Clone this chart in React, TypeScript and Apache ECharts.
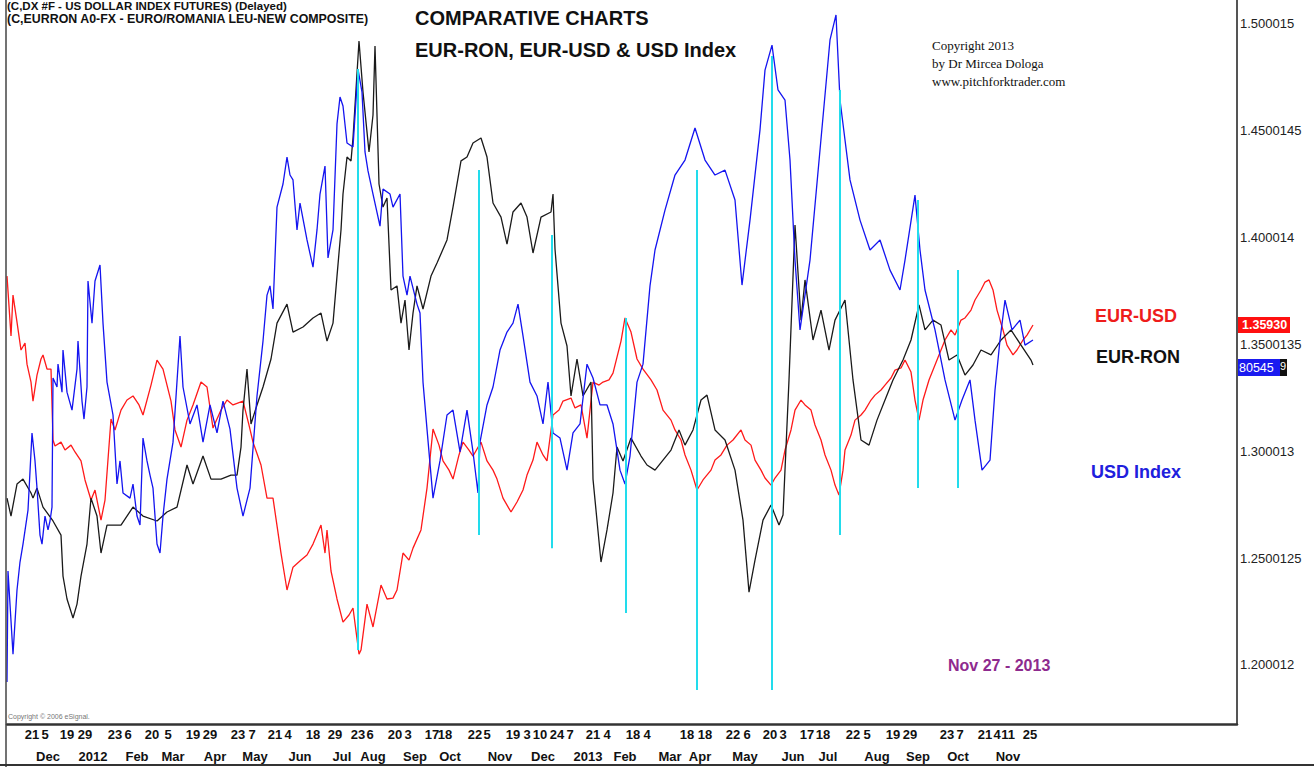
import React, { useEffect, useRef } from "react";
import * as echarts from "echarts";

// x unit: trading-session index since the first bar of the chart
const dayPos = [12.5, 19, 30, 39, 54, 60.5, 72.5, 80.5, 93, 101.5, 115.5, 122.5, 134, 140.5, 153, 164, 175.5, 181.5, 194, 200.5, 212.5, 219, 234, 240, 253, 260, 266.5, 275, 281.5, 293, 300, 313, 320, 340, 349, 363, 370, 381.5, 388, 400, 408, 423, 430, 443, 451.5, 470, 476.5, 489, 495, 500.5, 511.5];
const dayText = ["21", "5", "19", "29", "23", "6", "20", "5", "19", "29", "23", "7", "21", "4", "18", "29", "23", "6", "20", "3", "17", "18", "22", "5", "19", "3", "10", "24", "7", "21", "4", "18", "4", "18", "18", "22", "6", "20", "3", "17", "18", "22", "5", "19", "29", "23", "7", "21", "4", "11", "25"];
const monthPos = [20.5, 43, 65, 83, 104, 124, 146.5, 167.5, 183, 204, 221.5, 246.5, 268, 290.5, 309, 331.5, 346.5, 369, 393, 410.5, 435, 455.5, 475.5, 500.5];
const monthText = ["Dec", "2012", "Feb", "Mar", "Apr", "May", "Jun", "Jul", "Aug", "Sep", "Oct", "Nov", "Dec", "2013", "Feb", "Mar", "Apr", "May", "Jun", "Jul", "Aug", "Sep", "Oct", "Nov"];

const yTickVals = [1.200012, 1.2500125, 1.300013, 1.3500135, 1.400014, 1.4500145, 1.500015];
const yTickText = ["1.200012", "1.2500125", "1.300013", "1.3500135", "1.400014", "1.4500145", "1.500015"];

const eurUsd = [[0,1.3820],[2,1.3540],[3,1.3731],[5,1.3605],[7,1.3474],[9,1.3507],[10,1.3408],[12,1.3324],[13,1.3235],[15,1.3357],[17,1.3432],[18,1.3451],[20,1.3385],[22,1.3385],[23,1.3053],[24,1.3025],[27,1.3043],[29,1.3006],[32,1.3029],[34,1.2997],[37,1.2955],[39,1.2866],[42,1.2772],[44,1.2819],[47,1.2678],[49,1.2772],[52,1.3151],[54,1.3100],[57,1.3193],[60,1.3240],[63,1.3259],[66,1.3217],[68,1.3170],[72,1.3310],[75,1.3427],[78,1.3385],[82,1.3235],[84,1.3100],[87,1.3020],[90,1.3146],[93,1.3217],[97,1.3324],[100,1.3301],[103,1.3109],[107,1.3193],[110,1.3240],[113,1.3217],[118,1.3235],[121,1.3123],[123,1.3043],[127,1.2936],[130,1.2781],[133,1.2781],[137,1.2524],[140,1.2351],[143,1.2458],[147,1.2491],[150,1.2515],[153,1.2566],[157,1.2655],[159,1.2524],[160,1.2632],[162,1.2440],[165,1.2309],[168,1.2201],[171,1.2234],[173,1.2267],[176,1.2051],[177,1.2070],[180,1.2285],[183,1.2178],[187,1.2374],[190,1.2309],[193,1.2313],[195,1.2351],[198,1.2524],[201,1.2491],[203,1.2547],[207,1.2632],[210,1.2828],[213,1.3104],[216,1.3029],[218,1.2955],[221,1.2912],[223,1.2870],[226,1.2983],[228,1.3043],[231,1.3006],[233,1.2978],[237,1.3043],[240,1.2955],[243,1.2912],[245,1.2870],[248,1.2781],[252,1.2716],[255,1.2763],[258,1.2819],[260,1.2889],[263,1.2959],[265,1.3043],[268,1.2983],[270,1.2955],[273,1.3170],[276,1.3193],[278,1.3235],[282,1.3249],[284,1.3203],[287,1.3217],[290,1.3062],[293,1.3324],[296,1.3310],[298,1.3324],[301,1.3334],[303,1.3366],[307,1.3516],[309,1.3624],[312,1.3558],[315,1.3432],[318,1.3385],[322,1.3334],[325,1.3287],[328,1.3193],[332,1.3146],[334,1.3100],[337,1.3053],[339,1.2983],[342,1.2912],[345,1.2819],[348,1.2866],[352,1.2912],[354,1.2959],[357,1.2983],[360,1.3029],[363,1.3053],[367,1.3100],[369,1.3053],[372,1.3029],[374,1.2959],[377,1.2912],[379,1.2875],[382,1.2842],[384,1.2875],[387,1.2912],[389,1.3006],[392,1.3100],[394,1.3193],[397,1.3240],[399,1.3217],[402,1.3193],[404,1.3123],[407,1.3053],[409,1.2983],[412,1.2912],[414,1.2842],[416,1.2795],[418,1.2912],[419,1.3006],[422,1.3076],[424,1.3146],[427,1.3170],[429,1.3193],[432,1.3240],[434,1.3263],[437,1.3287],[439,1.3310],[442,1.3343],[444,1.3380],[447,1.3390],[449,1.3427],[452,1.3371],[454,1.3240],[456,1.3146],[458,1.3240],[461,1.3334],[464,1.3404],[467,1.3474],[469,1.3521],[472,1.3568],[474,1.3544],[477,1.3614],[479,1.3624],[482,1.3661],[484,1.3708],[487,1.3755],[489,1.3792],[491,1.3802],[493,1.3755],[495,1.3661],[498,1.3568],[500,1.3497],[503,1.3451],[505,1.3474],[508,1.3521],[510,1.3544],[513,1.3591]];

const eurRon = [[0,1.2781],[2,1.2697],[5,1.2847],[8,1.2870],[12,1.2805],[13,1.2781],[15,1.2828],[18,1.2739],[23,1.2674],[27,1.2608],[28,1.2416],[30,1.2309],[33,1.2220],[35,1.2285],[37,1.2416],[40,1.2566],[42,1.2781],[45,1.2697],[47,1.2524],[50,1.2655],[57,1.2655],[63,1.2739],[68,1.2697],[75,1.2674],[80,1.2716],[85,1.2739],[90,1.2936],[93,1.2847],[98,1.2978],[102,1.2870],[107,1.2870],[112,1.2889],[115,1.2889],[117,1.3020],[118,1.3193],[120,1.3385],[122,1.3128],[125,1.3217],[128,1.3301],[132,1.3432],[135,1.3600],[140,1.3689],[143,1.3558],[148,1.3582],[153,1.3624],[157,1.3647],[160,1.3516],[163,1.3600],[165,1.3820],[167,1.4036],[168,1.4204],[170,1.4377],[172,1.4359],[173,1.4466],[176,1.4920],[178,1.4681],[181,1.4401],[183,1.4574],[184,1.4897],[186,1.4251],[188,1.4143],[190,1.4185],[192,1.3755],[195,1.3774],[197,1.3600],[199,1.3708],[201,1.3474],[203,1.3647],[205,1.3774],[208,1.3666],[212,1.3820],[215,1.3881],[220,1.3989],[223,1.4143],[227,1.4359],[230,1.4377],[233,1.4443],[237,1.4466],[240,1.4377],[243,1.4162],[247,1.4096],[250,1.3970],[253,1.4120],[257,1.4162],[260,1.4096],[263,1.3928],[267,1.4096],[272,1.4120],[273,1.4204],[274,1.3947],[277,1.3600],[280,1.3493],[282,1.3259],[285,1.3432],[288,1.3259],[292,1.3324],[293,1.2870],[297,1.2482],[300,1.2632],[303,1.2805],[305,1.3020],[308,1.2955],[312,1.3062],[317,1.2978],[320,1.2936],[324,1.2912],[328,1.2959],[332,1.3006],[336,1.3100],[339,1.3029],[343,1.3100],[347,1.3240],[350,1.3263],[354,1.3100],[359,1.3053],[364,1.2912],[368,1.2678],[371,1.2341],[374,1.2491],[378,1.2678],[382,1.2749],[386,1.2655],[388,1.2702],[391,1.3334],[394,1.4059],[397,1.3614],[399,1.3802],[403,1.3521],[407,1.3661],[411,1.3474],[414,1.3614],[419,1.3708],[423,1.3334],[427,1.3053],[431,1.3029],[435,1.3146],[439,1.3240],[443,1.3334],[448,1.3427],[452,1.3521],[456,1.3685],[459,1.3568],[463,1.3614],[467,1.3591],[471,1.3427],[475,1.3451],[479,1.3357],[483,1.3404],[487,1.3474],[492,1.3451],[497,1.3521],[502,1.3568],[507,1.3497],[512,1.3427],[513,1.3404]];

const usdIndex = [[0,1.1920],[0.5,1.2440],[3,1.2051],[5,1.2351],[6.5,1.2482],[8,1.2566],[10.5,1.2725],[12.5,1.3086],[14,1.2955],[15,1.2828],[16.5,1.2608],[17.5,1.2566],[19,1.2697],[20.5,1.2632],[21.5,1.2674],[22.5,1.2739],[23,1.3343],[25,1.3301],[25.5,1.3408],[27.5,1.3277],[28,1.3474],[30,1.3277],[32.5,1.3193],[35,1.3385],[35.5,1.3516],[37.5,1.3235],[38.5,1.3151],[40,1.3301],[40.5,1.3797],[42.5,1.3600],[44,1.3797],[46.5,1.3872],[48,1.3600],[50,1.3324],[53,1.3170],[55,1.2847],[56.5,1.2955],[58,1.2805],[61.5,1.2781],[63,1.2847],[65,1.2697],[66.5,1.2655],[68,1.3062],[70,1.2955],[71.5,1.2889],[73,1.2828],[75,1.2566],[76.5,1.2524],[78,1.2697],[80,1.2870],[83,1.3043],[86.5,1.3540],[88,1.3301],[91.5,1.3128],[95,1.3217],[98,1.3043],[101.5,1.3217],[105,1.3086],[108,1.3235],[111.5,1.3104],[115,1.2828],[118,1.2697],[121.5,1.2828],[125,1.3259],[128,1.3516],[130,1.3731],[131.5,1.3774],[133,1.3666],[135,1.4143],[138,1.4251],[140,1.4377],[141.5,1.4293],[143,1.4270],[145,1.4036],[146.5,1.4162],[150,1.3989],[153,1.3862],[155,1.4036],[156.5,1.4204],[159,1.4335],[160.5,1.3905],[163,1.4036],[165,1.4532],[166.5,1.4658],[168,1.4616],[170,1.4443],[173,1.4424],[175.5,1.4789],[177.5,1.4681],[179,1.4401],[180.5,1.4312],[183,1.4204],[186.5,1.4054],[188,1.4227],[191.5,1.4204],[193,1.4143],[196.5,1.4204],[198,1.3820],[200,1.3731],[201.5,1.3820],[205,1.3689],[206.5,1.3647],[208,1.3324],[210,1.3104],[213,1.2781],[216.5,1.2955],[220,1.3170],[223,1.3193],[226.5,1.2997],[230,1.3193],[233,1.2997],[235.5,1.2805],[236.5,1.3043],[240,1.3217],[243,1.3301],[246.5,1.3474],[250,1.3558],[253,1.3600],[255.5,1.3689],[258,1.3540],[261.5,1.3324],[265,1.3259],[268,1.3128],[270.5,1.3324],[273,1.3086],[276.5,1.3062],[280,1.2912],[283,1.3086],[286.5,1.3128],[290,1.3408],[293,1.3343],[296.5,1.3217],[300,1.3217],[303,1.3128],[306.5,1.2912],[309,1.2847],[311.5,1.2978],[315,1.3324],[318,1.3408],[321.5,1.3774],[324,1.3942],[329,1.4129],[334,1.4293],[339,1.4363],[344,1.4513],[349,1.4363],[354,1.4293],[359,1.4316],[364,1.4176],[367.5,1.3778],[371.5,1.4082],[376.5,1.4504],[379,1.4784],[382.5,1.4901],[385.5,1.4691],[389,1.4644],[391.5,1.4363],[394,1.3895],[396.5,1.3568],[401.5,1.3895],[406.5,1.4410],[411.5,1.4925],[414.5,1.5042],[416.5,1.4644],[419,1.4457],[421.5,1.4270],[426.5,1.4082],[431.5,1.3942],[436.5,1.3989],[441.5,1.3848],[446.5,1.3755],[449,1.3895],[454,1.4199],[456.5,1.3942],[459,1.3755],[464,1.3568],[469,1.3334],[474,1.3146],[477.5,1.3240],[481.5,1.3334],[484,1.3146],[487.5,1.2912],[491.5,1.2959],[494,1.3287],[496.5,1.3521],[499,1.3708],[502.5,1.3568],[506.5,1.3614],[509,1.3497],[513,1.3521]];

const cyanDays = [175.5, 236, 272.5, 309.5, 345, 382.5, 416.5, 455.5, 475.5];
const cyanTop = [1.4789, 1.4316, 1.4012, 1.3624, 1.4316, 1.4850, 1.4691, 1.4176, 1.3848];
const cyanBottom = [1.2070, 1.2608, 1.2547, 1.2243, 1.1883, 1.1883, 1.2608, 1.2828, 1.2828];

const SANS = "'Liberation Sans', Arial, Helvetica, sans-serif";
const NARROW = "'Liberation Sans Narrow', 'Liberation Sans', Arial, sans-serif";
const SERIF = "'Liberation Serif', 'Times New Roman', serif";

function txt(text: string, x: number, y: number, fill: string, fontSize: number, fontWeight: string, fontFamily: string, align = "left") {
  return {
    type: "text",
    x,
    y,
    z: 100,
    style: { text, fill, fontSize, fontWeight, fontFamily, align, verticalAlign: "middle" },
  };
}

export default function App() {
  const ref = useRef<HTMLDivElement>(null);
  useEffect(() => {
    document.body.style.margin = "0";
    const chart = echarts.init(ref.current as HTMLDivElement, null, { renderer: "svg" });
    const lookup = (pos: number[], labels: string[]) => (v: number) => {
      const i = pos.indexOf(v);
      return i >= 0 ? labels[i] : "";
    };
    const lineSeries = (name: string, data: number[][], color: string, z: number) => ({
      name,
      type: "line",
      data,
      showSymbol: false,
      symbol: "none",
      z,
      lineStyle: { color, width: 1.3 },
      itemStyle: { color },
    });
    const option: any = {
      animation: false,
      backgroundColor: "#ffffff",
      grid: { left: 7, right: 77, top: 0, bottom: 43, outerBoundsMode: "none" },
      xAxis: [
        {
          type: "value",
          min: 0,
          max: 615,
          position: "bottom",
          axisLine: { show: true, onZero: false, lineStyle: { color: "#333", width: 2.5 } },
          axisTick: { show: false },
          splitLine: { show: false },
          axisLabel: {
            customValues: dayPos,
            formatter: lookup(dayPos, dayText),
            margin: 4,
            color: "#111",
            fontSize: 13,
            fontWeight: "bold",
            fontFamily: NARROW,
          },
        },
        {
          type: "value",
          min: 0,
          max: 615,
          position: "bottom",
          offset: 22,
          axisLine: { show: false },
          axisTick: { show: false },
          splitLine: { show: false },
          axisLabel: {
            customValues: monthPos,
            formatter: lookup(monthPos, monthText),
            margin: 4,
            color: "#111",
            fontSize: 13,
            fontWeight: "bold",
            fontFamily: NARROW,
          },
        },
      ],
      yAxis: {
        type: "value",
        position: "right",
        min: 1.1724,
        max: 1.5112,
        axisLine: { show: true, onZero: false, lineStyle: { color: "#555", width: 2 } },
        axisTick: { show: false },
        splitLine: { show: false },
        axisLabel: {
          customValues: yTickVals,
          formatter: lookup(yTickVals, yTickText),
          margin: 3,
          color: "#222",
          fontSize: 13,
          fontFamily: SANS,
        },
      },
      series: [
        lineSeries("EUR-USD", eurUsd, "#ff1a1a", 2),
        lineSeries("EUR-RON", eurRon, "#1a1a1a", 3),
        {
          ...lineSeries("USD Index", usdIndex, "#1414f0", 4),
          markLine: {
            silent: true,
            symbol: ["none", "none"],
            label: { show: false },
            z: 10,
            lineStyle: { color: "#22dcec", width: 2, type: "solid" },
            data: cyanDays.map((d, i) => [{ coord: [d, cyanTop[i]] }, { coord: [d, cyanBottom[i]] }]),
          },
        },
      ],
      graphic: [
        txt("(C,DX #F - US DOLLAR INDEX FUTURES) (Delayed)", 7, 6, "#111", 11.5, "bold", SANS),
        txt("(C,EURRON A0-FX - EURO/ROMANIA LEU-NEW COMPOSITE)", 7, 19, "#111", 12.4, "bold", SANS),
        txt("COMPARATIVE CHARTS", 415, 18, "#111", 20, "bold", SANS),
        txt("EUR-RON, EUR-USD & USD Index", 415, 50, "#111", 20, "bold", SANS),
        txt("Copyright 2013", 932, 45, "#111", 13, "normal", SERIF),
        txt("by Dr Mircea Dologa", 932, 63, "#111", 13, "normal", SERIF),
        txt("www.pitchforktrader.com", 932, 81, "#111", 13, "normal", SERIF),
        txt("EUR-USD", 1095, 316, "#ee1c1c", 18, "bold", SANS),
        txt("EUR-RON", 1096, 357, "#111", 18, "bold", SANS),
        txt("USD Index", 1091, 472, "#2020dd", 18, "bold", SANS),
        txt("Nov 27 - 2013", 948, 665, "#8e2a8e", 16, "bold", SANS),
        txt("Copyright \u00a9 2006 eSignal.", 8, 716, "#777", 7, "normal", SANS),
        { type: "rect", z: 100, shape: { x: 1238, y: 317, width: 52, height: 16 }, style: { fill: "#ff1010" } },
        txt("1.35930", 1242, 325, "#ffffff", 12.5, "bold", SANS),
        { type: "rect", z: 100, shape: { x: 1238, y: 359, width: 42, height: 17 }, style: { fill: "#1a1af0" } },
        { type: "rect", z: 100, shape: { x: 1280, y: 359, width: 7, height: 17 }, style: { fill: "#111" } },
        txt("80545", 1239, 368, "#ffffff", 12.5, "normal", SANS),
        txt("9", 1280, 366, "#ffffff", 11, "normal", SANS),
        { type: "line", z: 100, shape: { x1: 6, y1: 0, x2: 6, y2: 767 }, style: { stroke: "#444", lineWidth: 1.5 } },
        { type: "line", z: 100, shape: { x1: 0, y1: 765, x2: 1314, y2: 765 }, style: { stroke: "#333", lineWidth: 2 } },
      ],
    };
    chart.setOption(option);
    return () => chart.dispose();
  }, []);
  return <div ref={ref} style={{ width: 1314, height: 767 }} />;
}
